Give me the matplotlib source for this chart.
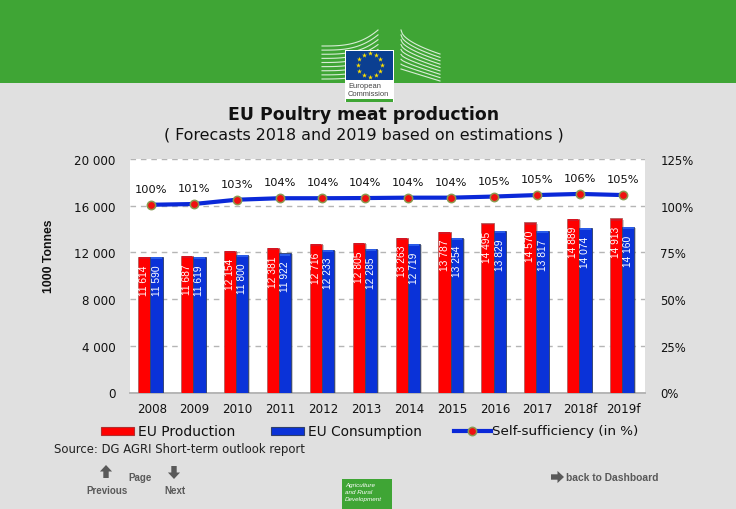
import matplotlib
matplotlib.use("Agg")
import matplotlib.pyplot as plt
import matplotlib.patheffects as pe
import numpy as np
from matplotlib.patches import Rectangle, FancyArrow
from matplotlib.lines import Line2D

years = ["2008","2009","2010","2011","2012","2013","2014","2015","2016","2017","2018f","2019f"]
production = [11614,11687,12154,12381,12716,12805,13263,13787,14495,14570,14889,14913]
consumption = [11590,11619,11800,11922,12233,12285,12719,13254,13829,13817,14074,14160]
self_suff = [100.5,100.9,103.2,104.0,104.0,104.1,104.3,104.3,104.9,105.7,106.3,105.7]
self_labels = ["100%","101%","103%","104%","104%","104%","104%","104%","105%","105%","106%","105%"]
left_ticks = [0,4000,8000,12000,16000,20000]
left_labels = ["0","4 000","8 000","12 000","16 000","20 000"]
right_ticks = [0,25,50,75,100,125]
right_labels = ["0%","25%","50%","75%","100%","125%"]

W, H = 736, 510
BG = "#e0e0e0"; GREEN = "#3fa535"
fig = plt.figure(figsize=(W/100, H/100), dpi=100, facecolor=BG)
plt.rcParams['font.family'] = ['DejaVu Sans']
SANS = 'Liberation Sans'

# decoration layer in pixel coordinates
deco = fig.add_axes([0,0,1,1], zorder=0)
deco.set_xlim(0,W); deco.set_ylim(H,0); deco.axis("off")
deco.add_patch(Rectangle((0,0),W,84,color=GREEN,lw=0))
# Berlaymont-like logo stripes
for i in range(9):
    f = i/8
    xs = np.linspace(322,378,30)
    deco.plot(xs, 47+33*f-(1-f)*16*((xs-322)/56)**3-f*10*((xs-322)/56)**3, color="white", lw=0.8, alpha=0.8, zorder=2)
    xs2 = np.linspace(401,440,30)
    top = 31+(55-31)*((xs2-401)/39)**0.55
    bot = 70+(82-70)*((xs2-401)/39)
    deco.plot(xs2, top+(bot-top)*f, color="white", lw=0.8, alpha=0.8, zorder=2)
deco.add_patch(Rectangle((345,51),49,52,color="white",lw=0,zorder=5))
deco.add_patch(Rectangle((346,52),47,29,color="#0b3f91",lw=0,zorder=6))
deco.add_patch(Rectangle((346,100),47,2.5,color=GREEN,lw=0,zorder=6))
ang = np.linspace(0,2*np.pi,12,endpoint=False)
deco.scatter(369.5+12*np.cos(ang),66+12*np.sin(ang),marker="*",s=14,color="#ffe000",lw=0,zorder=7)
deco.text(348,86.5,"European",fontsize=5.4,color="#444444",va="center",family=SANS,zorder=7)
deco.text(348,94,"Commission",fontsize=5.4,color="#444444",va="center",family=SANS,zorder=7)
# footer green box
deco.add_patch(Rectangle((342,480),50,30,color=GREEN,lw=0))
for y,s in zip([485.5,492.5,499.5],["Agriculture","and Rural","Development"]):
    deco.text(345,y,s,fontsize=4.5,style="italic",color="white",va="center",family=SANS)
# plot white background
deco.add_patch(Rectangle((130,160),515,233.5,color="white",lw=0))

deco.text(364,115,"EU Poultry meat production",fontsize=12.4,fontweight="bold",ha="center",va="center",color="#111111")
deco.text(364,135.5,"( Forecasts 2018 and 2019 based on estimations )",fontsize=11.4,ha="center",va="center",color="#111111")
deco.text(49,256,"1000 Tonnes",fontsize=8.8,fontweight="bold",rotation=90,ha="center",va="center",family=SANS,color="#111111")
deco.text(54,450,"Source: DG AGRI Short-term outlook report",fontsize=8.4,va="center",color="#222222")

GREY="#595959"
def arrow(x,y,dx,dy,w=9):
    deco.add_patch(FancyArrow(x,y,dx,dy,width=w*0.6,head_width=w*1.35,head_length=abs(dx+dy)*0.5,length_includes_head=True,color=GREY,lw=0))
arrow(106,479,0,-13)
arrow(174,467,0,13)
arrow(551,478,13,0)
deco.text(107,491,"Previous",fontsize=7,fontweight="bold",ha="center",va="center",color=GREY,family=SANS)
deco.text(140,478,"Page",fontsize=7,fontweight="bold",ha="center",va="center",color=GREY,family=SANS)
deco.text(174.5,491,"Next",fontsize=7,fontweight="bold",ha="center",va="center",color=GREY,family=SANS)
deco.text(566,478.5,"back to Dashboard",fontsize=7.4,fontweight="bold",va="center",color=GREY,family=SANS)

# chart
ax = fig.add_axes([130/W, 1-393.5/H, 515/W, 233.5/H], zorder=2)
ax.patch.set_alpha(0)
x = np.arange(len(years))
bw = 0.285
shadow = [pe.SimplePatchShadow(offset=(1.2,-0.8), alpha=0.3, shadow_rgbFace="#555555"), pe.Normal()]
ax.bar(x-bw/2,production,bw,color="#ff0000",edgecolor="#b06060",linewidth=0.6,zorder=3,path_effects=shadow)
ax.bar(x+bw/2,consumption,bw,color="#0a32d8",edgecolor="#30406a",linewidth=0.6,zorder=3,path_effects=shadow)
for xi,p,c in zip(x,production,consumption):
    ax.bar(xi-bw/2,170,bw*0.85,bottom=p-190,color="#d81420",zorder=4,lw=0)
    ax.bar(xi+bw/2,170,bw*0.85,bottom=c-190,color="#2a5be8",zorder=4,lw=0)
    ax.text(xi-bw/2,p-620,f"{p:,}".replace(","," "),rotation=90,ha="center",va="top",color="white",fontsize=7.4,family=SANS,zorder=6)
    ax.text(xi+bw/2,c-620,f"{c:,}".replace(","," "),rotation=90,ha="center",va="top",color="white",fontsize=7.4,family=SANS,zorder=6)
ax.set_xlim(-0.477,11.53); ax.set_ylim(0,20000)
ax.set_yticks(left_ticks); ax.set_yticklabels(left_labels,fontsize=8.6,color="#111111")
ax.set_xticks(x+0.03); ax.set_xticklabels(years,fontsize=8.6,color="#111111")
ax.tick_params(length=0)
ax.tick_params(axis="y",pad=10.5)
ax.tick_params(axis="x",pad=6.5)
ax.grid(axis="y",ls=(0,(4,3.5)),color="#b5b5b5",lw=1,zorder=1)
for s in ax.spines.values(): s.set_visible(False)
ax.spines["bottom"].set_visible(True); ax.spines["bottom"].set_color("#b5b5b5"); ax.spines["bottom"].set_linewidth(1.4)

ax2 = ax.twinx()
ax2.set_ylim(0,125); ax2.patch.set_alpha(0)
ax2.plot(x+0.01,self_suff,color="#0a28d8",lw=3,marker="o",ms=6,mfc="#f01010",mec="#8a9a50",mew=1.1,zorder=5)
for xi,v,l in zip(x,self_suff,self_labels):
    ax2.annotate(l,(xi+0.01,v),xytext=(0,11.5),textcoords="offset points",ha="center",va="center",fontsize=8.2,color="#111111")
ax2.set_yticks(right_ticks); ax2.set_yticklabels(right_labels,fontsize=8.4,color="#111111")
ax2.tick_params(length=0,pad=11)
for s in ax2.spines.values(): s.set_visible(False)

# legend
leg = fig.add_axes([0,0,1,1], zorder=3); leg.set_xlim(0,W); leg.set_ylim(H,0); leg.axis("off")
leg.add_patch(Rectangle((101,428),33,8,facecolor="#ff0000",edgecolor="#b03030",lw=0.8))
leg.add_patch(Rectangle((271,428),33,8,facecolor="#0a32d8",edgecolor="#30406a",lw=0.8))
leg.text(138,432,"EU Production",fontsize=10,va="center",color="#111111")
leg.text(308,432,"EU Consumption",fontsize=9.9,va="center",color="#111111")
leg.add_line(Line2D([454,491],[431.5,431.5],color="#0a28d8",lw=3))
leg.plot([472],[431.5],marker="o",ms=6,mfc="#f01010",mec="#8a9a50",mew=1.1)
leg.text(492,432,"Self-sufficiency (in %)",fontsize=9.7,va="center",color="#111111")

fig.savefig("out.png",dpi=100,facecolor=BG)
